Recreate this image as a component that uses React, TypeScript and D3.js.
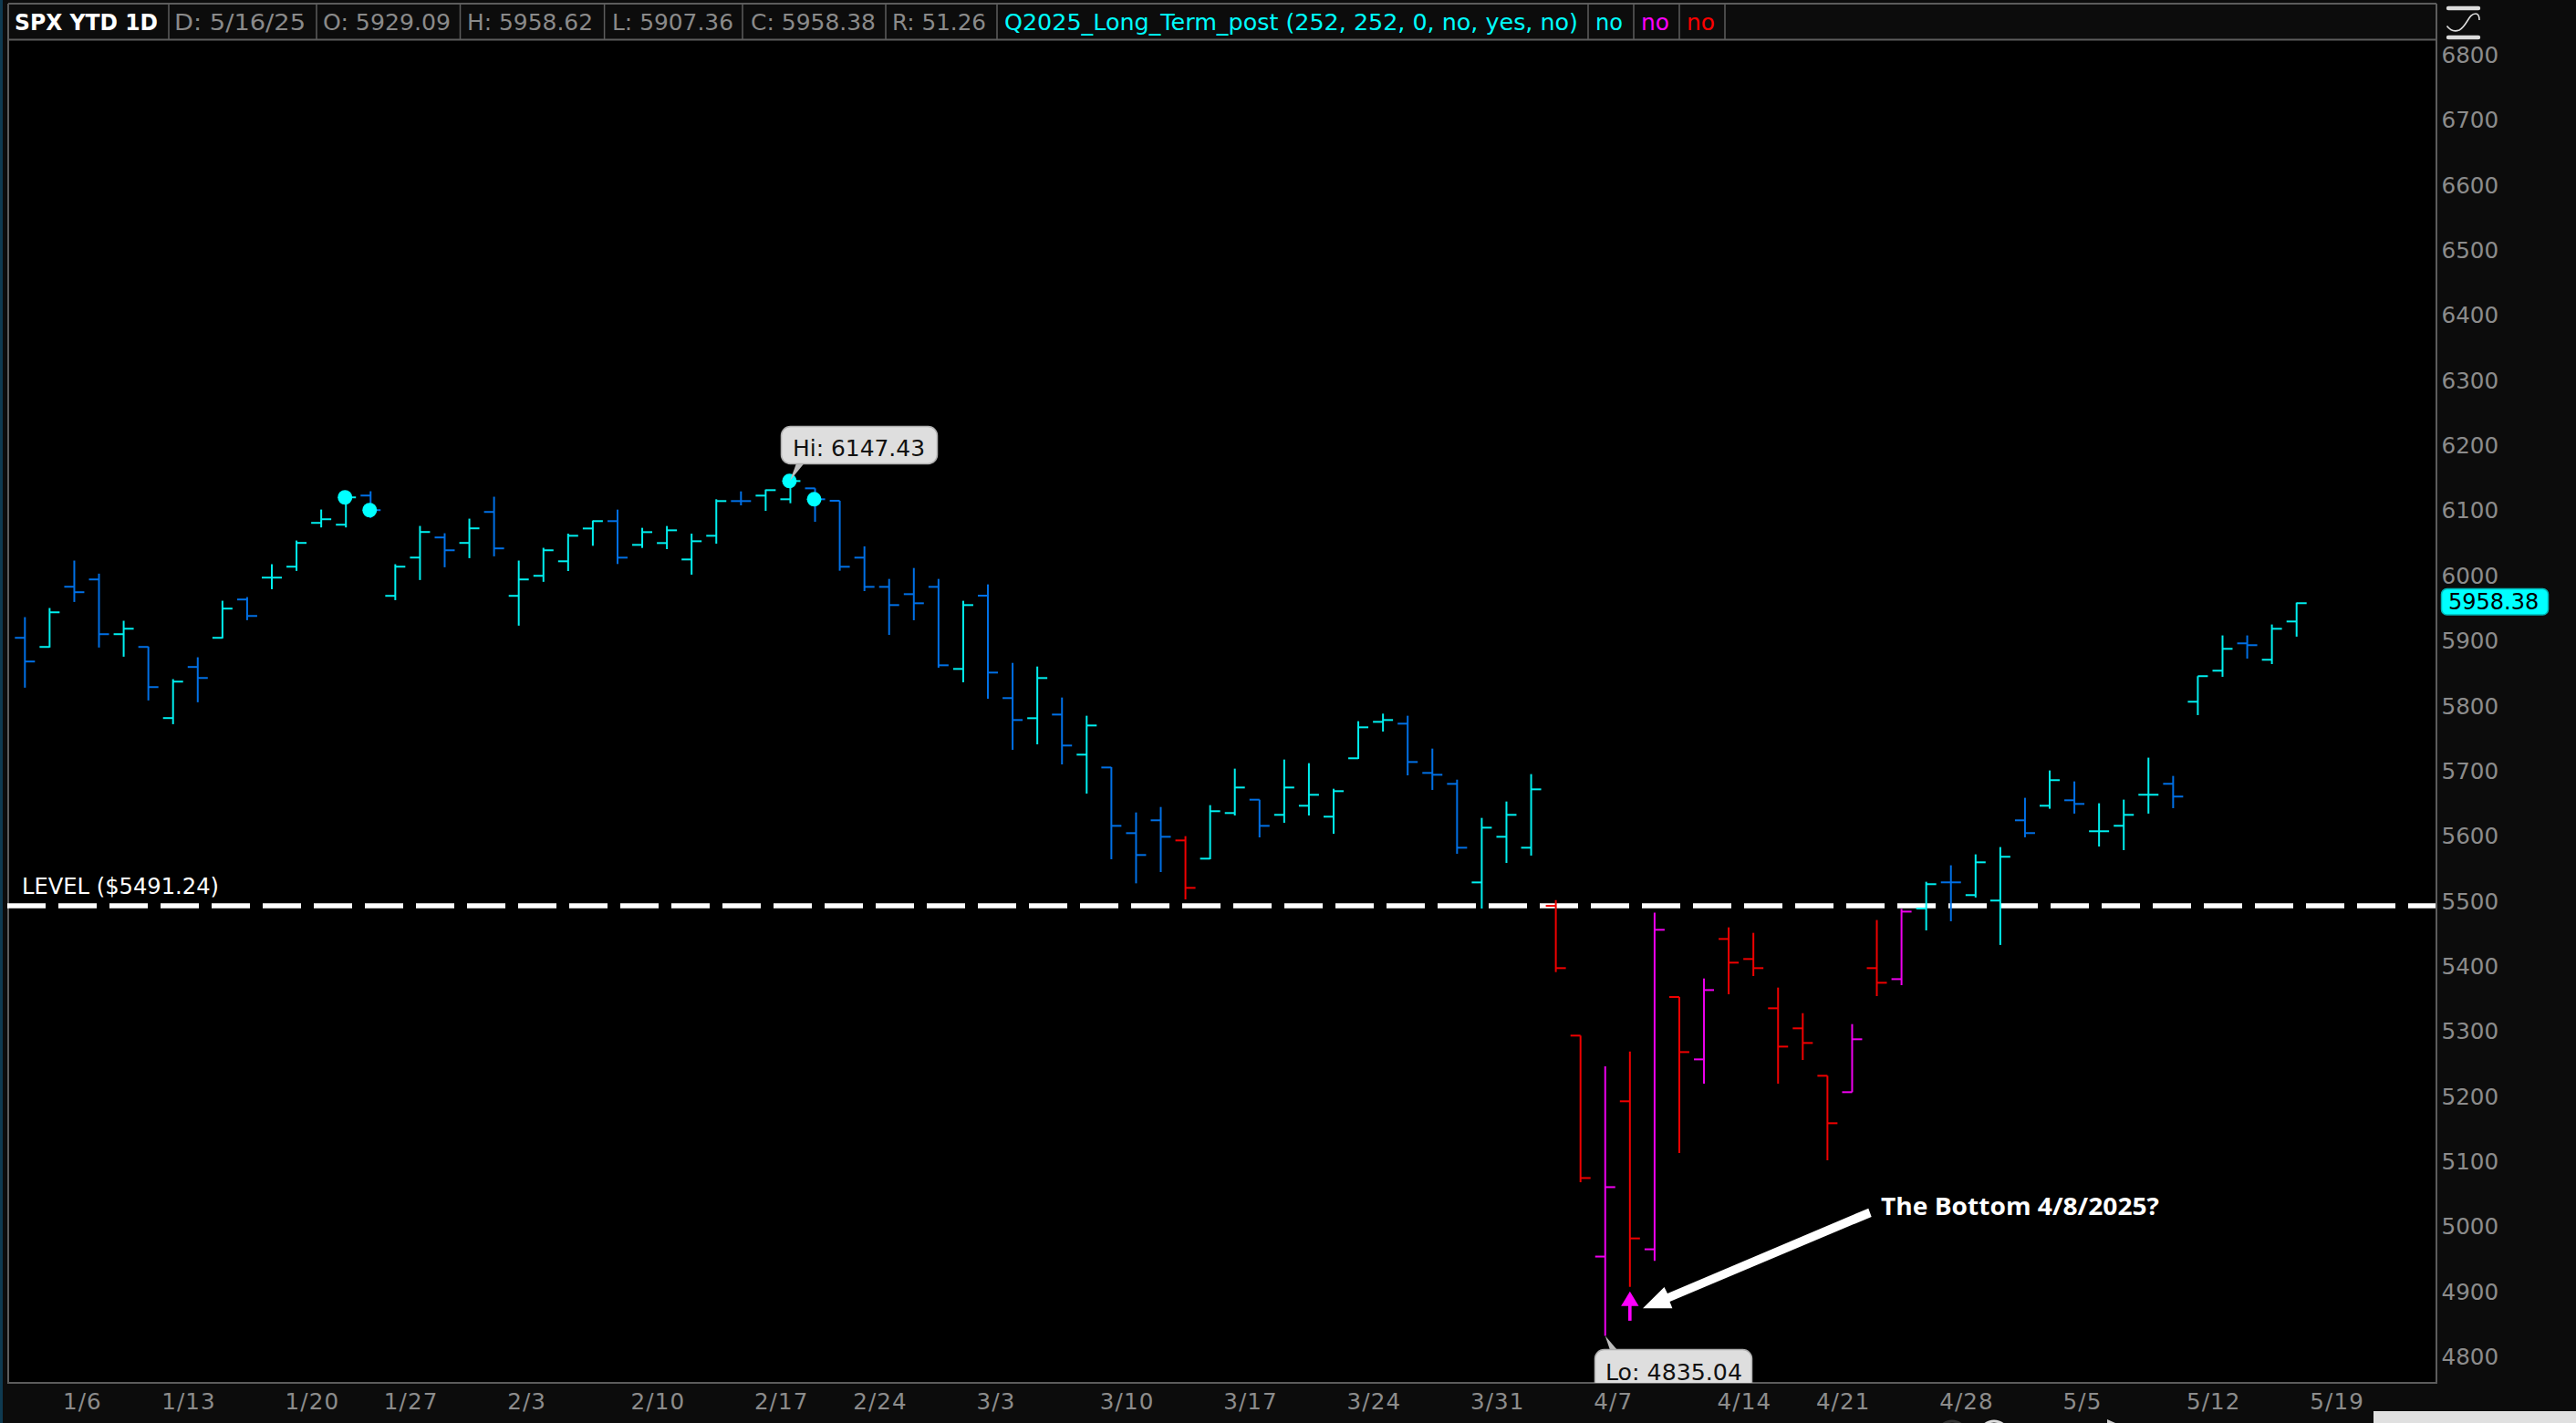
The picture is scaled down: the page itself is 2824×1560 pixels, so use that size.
import React from "react";
import * as d3 from "d3";

// ---- Data (S&P 500 daily OHLC bars, 1/2/25 – 5/16/25) ----
const opens = [
  5904.8, 5890.8, 5983.3, 5994.5, 5910.4, 5890.8, 5781.5, 5860, 5904.8, 5963.7,
  5997.3, 6014.1, 6081.4, 6078.6, 6123.4, 5969.3, 6028.1, 6059, 6050.6, 6098.2,
  5969.3, 6000.1, 6022.4, 6072.8, 6084.1, 6047.6, 6050.4, 6025.2, 6061.6, 6114.9,
  6123.3, 6117.7, 6134.5, 6115.4, 6028, 5983.1, 5971.9, 5983.1, 5857, 5969.6,
  5812.2, 5781.3, 5786.9, 5725.3, 5705.6, 5604.7, 5624.4, 5593.5, 5565.5, 5635.6,
  5656.1, 5632.8, 5646.8, 5630, 5719.7, 5775.7, 5772.9, 5697.2, 5680.4, 5529,
  5599.1, 5582.3, 5493, 5293.6, 4954.1, 5192.7, 4965.3, 5352.9, 5257.1, 5442.1,
  5411.3, 5335.6, 5304.8, 5231.9, 5206.7, 5397.3, 5380.4, 5488.9, 5529.1, 5509.5,
  5501.1, 5624.4, 5646.8, 5655.2, 5607.6, 5616, 5663.7, 5680.5, 5806.6, 5854.3,
  5896.3, 5871.1, 5929.9,
];
const highs = [
  5936.6, 5950.6, 6023.5, 6003.4, 5931, 5891.3, 5841.3, 5874.9, 5961.8, 5967.4,
  6017.9, 6054.3, 6101.9, 6120.6, 6130, 6017.9, 6076.7, 6065.5, 6087.9, 6121.6,
  6023.5, 6043.1, 6064.9, 6085, 6101.8, 6073.8, 6076.6, 6064.9, 6117.7, 6129.8,
  6132.6, 6147.43, 6134.5, 6115.4, 6045.3, 5995.3, 6012.1, 5995.3, 5961.7, 5986.9,
  5866.3, 5860.7, 5813.1, 5785.1, 5706.1, 5636.5, 5644.9, 5600.1, 5647.7, 5703.8,
  5656.1, 5717.8, 5712.2, 5672.9, 5776.7, 5788.3, 5785.1, 5734.6, 5686.9, 5628.1,
  5653.3, 5695.4, 5501.8, 5293.6, 5246.4, 5269.3, 5482.4, 5352.9, 5381.4, 5459.9,
  5451.5, 5367.4, 5328.1, 5231.9, 5311.3, 5471.2, 5488.3, 5530, 5555.3, 5572.1,
  5583.3, 5659, 5701, 5684.2, 5650.6, 5656.2, 5720.7, 5692.6, 5845.9, 5908.5,
  5908.5, 5925.3, 5958.9,
];
const lows = [
  5828.2, 5889.9, 5959.9, 5889.9, 5875.8, 5808.6, 5772.1, 5805.8, 5903.9, 5931.9,
  5979.5, 6007.6, 6074.4, 6074.4, 6088.9, 5962.7, 5993.6, 6013.2, 6027.2, 6030,
  5923.5, 5990.8, 6007.4, 6046.2, 6018.2, 6042.9, 6041.1, 6001.8, 6049.5, 6108.3,
  6099.9, 6111.6, 6083.1, 6007.9, 5976.6, 5909.3, 5931.8, 5858.9, 5836.5, 5811.2,
  5732.7, 5741.1, 5710.3, 5665.5, 5564.6, 5527.6, 5544.9, 5502.9, 5564.6, 5631.8,
  5598.2, 5620.6, 5631.8, 5603.8, 5718.7, 5760.8, 5693.5, 5671.1, 5573, 5488.9,
  5558.9, 5570.2, 5391.2, 5068.3, 4832.3, 4907.4, 4947.6, 5113.2, 5219.8, 5357.1,
  5385.1, 5219.8, 5256.2, 5102, 5206.7, 5354.3, 5371.1, 5455.3, 5469.3, 5505.8,
  5432.9, 5598.3, 5642.2, 5634.7, 5584.2, 5578.6, 5634.7, 5643.1, 5786.1, 5844.9,
  5872.9, 5864.5, 5906.6,
];
const closes = [
  5868.4, 5944, 5974.9, 5910.4, 5918.8, 5829.1, 5837.5, 5843.1, 5949.7, 5938.4,
  5997.3, 6050.6, 6087, 6120.6, 6101, 6014.1, 6067.4, 6039.3, 6073, 6042.2,
  5994.5, 6039.3, 6061.6, 6084.1, 6028, 6067.2, 6070, 6053.2, 6114.9, 6114.9,
  6131.7, 6145.7, 6117.7, 6014, 5983.1, 5955.1, 5957.9, 5862.6, 5955.1, 5851.4,
  5778.5, 5843, 5739.3, 5770.1, 5615.9, 5571.1, 5599.1, 5520.6, 5638.4, 5674.8,
  5615.9, 5674.8, 5663.6, 5669.2, 5767.3, 5778.5, 5714, 5694.4, 5582.3, 5613.1,
  5632.8, 5672, 5397.3, 5074.8, 5060.8, 4982, 5456.2, 5268.3, 5363.6, 5405.7,
  5397.3, 5276.7, 5282.3, 5159, 5288, 5374.8, 5484.1, 5526.3, 5529.1, 5559.9,
  5568.4, 5604.8, 5686.1, 5649.6, 5607.6, 5632.8, 5663.7, 5660.9, 5845.9, 5887.9,
  5893.5, 5918.7, 5958,
];
// c = cyan, b = blue, r = red, m = magenta
const barColors =
  "bcbbcbcbcbccccbccbcbccccbccccbccbbbbbbcbbcbcbbbrccbccccc" +
  "bbbcccrrmrmrmrrrrrmrmcbccbcbcccbccbcc";

const yTicks = d3.range(4800, 6900, 100);
const xTickLabels = ["1/6","1/13","1/20","1/27","2/3","2/10","2/17","2/24","3/3","3/10","3/17","3/24","3/31","4/7","4/14","4/21","4/28","5/5","5/12","5/19"];
const xTickBars = [2, 6, 11, 15, 20, 25, 30, 34, 39, 44, 49, 54, 59, 64, 69, 73, 78, 83, 88, 93];
const dotBars = [13, 14, 31, 32];
const levelPrice = 5493.2;
const levelLabel = "LEVEL ($5491.24)";
const lastClose = 5958.38;
const bottomBar = 65;

const headerCells: [string, string, number, number][] = [
  ["SPX YTD 1D", "#ffffff", 16, 157],
  ["D: 5/16/25", "#8a8a8a", 191, 144],
  ["O: 5929.09", "#8a8a8a", 354, 140],
  ["H: 5958.62", "#8a8a8a", 512, 138],
  ["L: 5907.36", "#8a8a8a", 671, 133],
  ["C: 5958.38", "#8a8a8a", 823, 137],
  ["R: 51.26", "#8a8a8a", 978, 103],
  ["Q2025_Long_Term_post (252, 252, 0, no, yes, no)", "#00ffff", 1101, 629],
  ["no", "#00ffff", 1749, 30],
  ["no", "#ff00ff", 1799, 31],
  ["no", "#ff0000", 1849, 31],
];
const headerSeparators = [185, 347, 504.5, 662.6, 814, 971, 1093, 1741, 1791, 1841, 1891];

const colorMap: Record<string, string> = { c: "#00f0f0", b: "#0070e6", r: "#f00000", m: "#f000f0" };
const FONT = "'DejaVu Sans', sans-serif";
const GRID = "#5c5c5c";
const PANEL = "#0c0c0c";

const x = d3.scaleLinear().domain([0, 92]).range([27.3, 2517.7]);
const y = d3.scaleLinear().domain([6800, 4800]).range([60.5, 1487.5]);

export default function App() {
  const bars = d3.range(opens.length);
  return (
    <svg
      width={2824}
      height={1560}
      viewBox="0 0 2824 1560"
      style={{ position: "fixed", left: 0, top: 0, display: "block", background: PANEL }}
      fontFamily={FONT}
    >
      <defs>
        <clipPath id="plot">
          <rect x={9} y={44} width={2662} height={1472} />
        </clipPath>
      </defs>

      {/* left strip */}
      <rect x={0} y={0} width={3} height={1560} fill="#0f3a50" />
      {/* plot */}
      <rect x={9} y={44} width={2662} height={1472} fill="#000" />

      {/* header */}
      <line x1={9} x2={2671} y1={4} y2={4} stroke={GRID} strokeWidth={2} />
      <line x1={9} x2={2671} y1={43.5} y2={43.5} stroke={GRID} strokeWidth={2} />
      {headerSeparators.map((s) => (
        <line key={s} x1={s} x2={s} y1={4} y2={43.5} stroke={GRID} strokeWidth={1.5} />
      ))}
      {headerCells.map(([t, c, px, w], i) => (
        <text
          key={i}
          x={px}
          y={33}
          fill={c}
          fontSize={24}
          fontWeight={i === 0 ? 700 : 400}
          textLength={w}
          lengthAdjust="spacingAndGlyphs"
        >
          {t}
        </text>
      ))}

      {/* frame */}
      <line x1={9} x2={9} y1={4} y2={1517} stroke={GRID} strokeWidth={2} />
      <line x1={2671} x2={2671} y1={4} y2={1517} stroke={GRID} strokeWidth={2} />
      <line x1={9} x2={2671} y1={1516} y2={1516} stroke={GRID} strokeWidth={2} />

      {/* level */}
      <line
        x1={8}
        x2={2670}
        y1={y(levelPrice)}
        y2={y(levelPrice)}
        stroke="#fff"
        strokeWidth={5.5}
        strokeDasharray="42 14"
      />
      <text x={24} y={980} fill="#fff" fontSize={24} textLength={216} lengthAdjust="spacingAndGlyphs">
        {levelLabel}
      </text>

      {/* OHLC bars */}
      <g clipPath="url(#plot)" strokeWidth={2} fill="none">
        {bars.map((i) => {
          const c = colorMap[barColors[i]];
          return (
            <g key={i} stroke={c}>
              <line x1={x(i)} x2={x(i)} y1={y(highs[i])} y2={y(lows[i])} />
              <line x1={x(i) - 11} x2={x(i)} y1={y(opens[i])} y2={y(opens[i])} />
              <line x1={x(i)} x2={x(i) + 11} y1={y(closes[i])} y2={y(closes[i])} />
            </g>
          );
        })}
      </g>

      {/* signal dots */}
      {dotBars.map((i) => (
        <circle key={i} cx={x(i) - 1} cy={y(closes[i])} r={8} fill="#00ffff" />
      ))}

      {/* bottom marker */}
      <g fill="#ff00ff">
        <path
          d={`M${x(bottomBar)} ${y(lows[bottomBar]) + 5}l-9.7 16h19.4z`}
        />
        <rect x={x(bottomBar) - 1.8} y={y(lows[bottomBar]) + 20} width={3.6} height={17} />
      </g>

      {/* white arrow annotation */}
      <path
        d="M1801 1434.3L1824.5 1411L1828 1418L2048.3 1324.7L2051.7 1333.9L1830.5 1427L1833.4 1434.3Z"
        fill="#fff"
      />
      <text
        x={2062}
        y={1332}
        fill="#fff"
        fontSize={27}
        fontWeight={700}
        fontFamily="'Open Sans', 'Noto Sans', sans-serif"
        textLength={305}
        lengthAdjust="spacingAndGlyphs"
      >
        The Bottom 4/8/2025?
      </text>

      {/* Hi bubble */}
      <path d="M873 508L881.5 508L866 527Z" fill="#bdbdbd" />
      <rect x={856.5} y={467.5} width={171} height={41} rx={10} fill="#dedede" stroke="#b0b0b0" strokeWidth={1.5} />
      <text x={869} y={500} fill="#111" fontSize={24} textLength={145} lengthAdjust="spacingAndGlyphs">
        Hi: 6147.43
      </text>

      {/* Lo bubble */}
      <g clipPath="url(#plot)">
        <path d={`M${x(64)} ${y(lows[64])}L1773 1480L1765 1480Z`} fill="#bdbdbd" />
        <rect x={1748.5} y={1479.5} width={172} height={60} rx={10} fill="#dedede" stroke="#b0b0b0" strokeWidth={1.5} />
        <text x={1760} y={1512.5} fill="#111" fontSize={24} textLength={150} lengthAdjust="spacingAndGlyphs">
          Lo: 4835.04
        </text>
      </g>

      {/* y axis */}
      {yTicks.map((t) => (
        <text key={t} x={2676.5} y={y(t) + 8.5} fill="#8c8c8c" fontSize={24.6}>
          {t}
        </text>
      ))}

      {/* last price flag */}
      <rect x={2676.5} y={y(lastClose) - 15.5} width={117} height={28.5} rx={6} fill="#00ffff" stroke="#00b8b8" strokeWidth={1.5} />
      <text x={2684} y={y(lastClose) + 7.5} fill="#000" fontSize={24}>
        {lastClose.toFixed(2)}
      </text>

      {/* x axis */}
      {xTickLabels.map((t, k) => (
        <text key={t} x={x(xTickBars[k]) - 12.5} y={1545} fill="#8c8c8c" fontSize={24.6} letterSpacing={1.1}>
          {t}
        </text>
      ))}

      {/* top right icon */}
      <g stroke="#dcdcdc" fill="none">
        <line x1={2684} x2={2717} y1={9} y2={9} strokeWidth={4.4} strokeLinecap="round" />
        <line x1={2684} x2={2717} y1={41} y2={41} strokeWidth={4.4} strokeLinecap="round" />
        <path d="M2682.5 28.5Q2688 36 2696 33C2705 28 2706 15 2714 15Q2718 15 2718 22" strokeWidth={1.6} />
      </g>

      {/* cropped window furniture at the bottom edge */}
      <rect x={2602} y={1547} width={222} height={13} fill="#e0e0e0" />
      <circle cx={2140} cy={1574} r={16} fill="none" stroke="#333" strokeWidth={3} />
      <circle cx={2186} cy={1574} r={16} fill="none" stroke="#ddd" strokeWidth={3} />
      <path d="M2310 1556l9 4h-9z" fill="#ccc" />
    </svg>
  );
}
